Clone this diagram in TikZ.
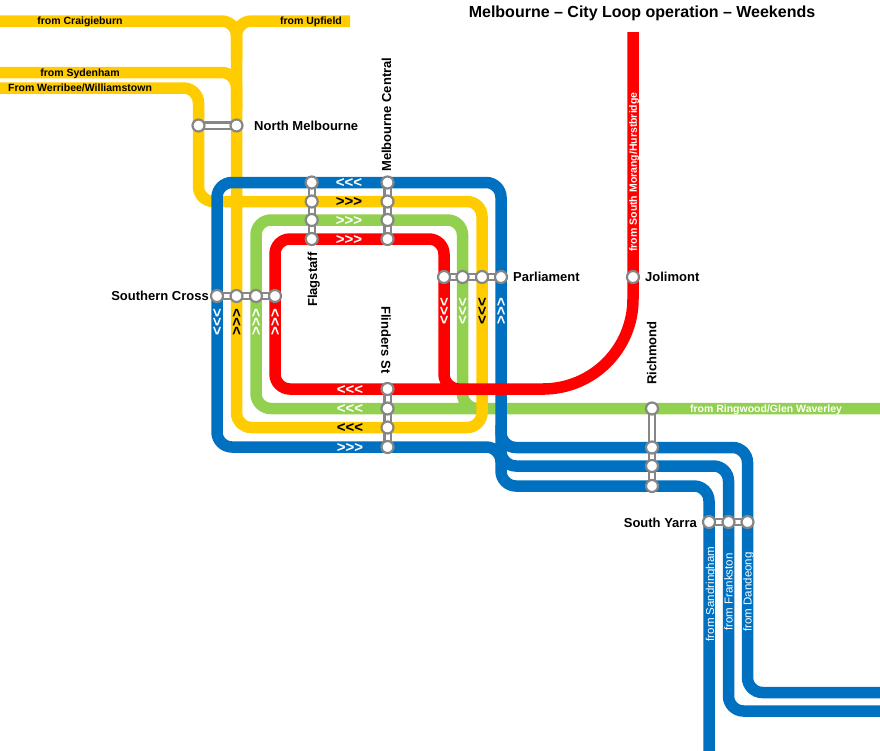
\documentclass[tikz,border=0pt]{standalone}
\usepackage{fontspec}
\setmainfont{Liberation Sans}[Ligatures=TeXOff]
\usetikzlibrary{positioning}
\definecolor{loopyellow}{HTML}{FFCC00}
\definecolor{loopblue}{HTML}{0070C0}
\definecolor{loopgreen}{HTML}{92D050}
\definecolor{loopred}{HTML}{FF0000}
\definecolor{stngrey}{HTML}{868686}

\begin{document}
\begin{tikzpicture}[x=1pt, y=-1pt,
    track/.style={line width=11.5pt, rounded corners=15pt},
    stn/.style={circle, draw=stngrey, fill=white, line width=2.2pt, inner sep=0pt, minimum size=12pt},
    bar/.style={draw=stngrey, line width=2.2pt, double=white, double distance=4pt},
    stnlabel/.style={font=\bfseries\fontsize{13}{13}\selectfont, inner sep=0pt},
    linelabel/.style={font=\bfseries\fontsize{10.5}{10.5}\selectfont, inner sep=0pt},
    southlabel/.style={font=\fontsize{11.5}{11.5}\selectfont, inner sep=0pt, white, rotate=90, anchor=base},
    chev/.style={font=\bfseries\fontsize{15}{15}\selectfont, inner sep=0pt, anchor=base}]

    \useasboundingbox (0,0) rectangle (880,750);

    % green
    \draw[track, loopgreen] (885,408.5) -- (256,408.5) -- (256,220) -- (462.5,220) -- (462.5,408.5) -- (485,408.5);
    % yellow
    \draw[track, loopyellow] (-5,21) -- (236.5,21) -- (236.5,427.5) -- (482,427.5) -- (482,201.5)
        -- (198.5,201.5) -- (198.5,88) -- (-5,88);
    \draw[track, loopyellow] (350,21) -- (236.5,21) -- (236.5,60);
    \draw[track, loopyellow] (-5,72.5) -- (236.5,72.5) -- (236.5,110);
    % blue
    \draw[track, loopblue] (709,755) -- (709,486) -- (501,486) -- (501,182.5) -- (217,182.5) -- (217,447)
        -- (501,447) -- (501,470);
    \draw[track, loopblue] (885,711) -- (728.5,711) -- (728.5,466) -- (501,466) -- (501,445);
    \draw[track, loopblue] (885,692.5) -- (747.5,692.5) -- (747.5,447.5) -- (501,447.5) -- (501,425);
    % red
    \draw[track, loopred] (545,389) -- (275,389) -- (275,239) -- (444,239) -- (444,389) -- (465,389);
    \draw[track, loopred, sharp corners] (633,32) -- (633,299) .. controls (633,348.7) and (592.7,389) .. (543,389);

    % stations
    \coordinate (nm1) at (198.5,125.5);
    \coordinate (nm2) at (236.5,125.5);
    \coordinate (jo1) at (633,277);
    \foreach \x [count=\i] in {217,236.5,256,275} \coordinate (sx\i) at (\x,296);
    \foreach \x [count=\i] in {444,462.5,482,501} \coordinate (pa\i) at (\x,277);
    \foreach \y [count=\i] in {182.5,201.5,220,239} {
        \coordinate (fs\i) at (311.7,\y);
        \coordinate (mc\i) at (387.5,\y);
    }
    \foreach \y [count=\i] in {389,408.5,427.5,447} \coordinate (fl\i) at (387.5,\y);
    \foreach \y [count=\i] in {408.5,447.5,466,486} \coordinate (ri\i) at (652,\y);
    \foreach \x [count=\i] in {709,728.5,747.5} \coordinate (sy\i) at (\x,522);

    \foreach \a/\b in {nm1/nm2, sx1/sx4, pa1/pa4, fs1/fs4, mc1/mc4, fl1/fl4, ri1/ri4, sy1/sy3}
        \draw[bar] (\a) -- (\b);
    \foreach \s in {nm1,nm2,jo1,sx1,sx2,sx3,sx4,pa1,pa2,pa3,pa4,fs1,fs2,fs3,fs4,mc1,mc2,mc3,mc4,
        fl1,fl2,fl3,fl4,ri1,ri2,ri3,ri4,sy1,sy2,sy3}
        \node[stn] (dot-\s) at (\s) {};

    % station names
    \node[stnlabel, anchor=base west] (lbl-nm) at (254,130.2) {North Melbourne};
    \node[stnlabel, anchor=base east] (lbl-sx) at (209,300.7) {Southern Cross};
    \node[stnlabel, anchor=base west] (lbl-pa) at (513,281.5) {Parliament};
    \node[stnlabel, anchor=base west] (lbl-jo) at (645,281.5) {Jolimont};
    \node[stnlabel, anchor=base east] (lbl-sy) at (697,527) {South Yarra};
    \node[stnlabel, anchor=base west, rotate=90] (lbl-mc) at (391,172) {Melbourne Central};
    \node[stnlabel, anchor=base west, rotate=90] (lbl-fs) at (317,307) {Flagstaff};
    \node[stnlabel, anchor=base west, rotate=-90] (lbl-fl) at (381.3,306) {Flinders St};
    \node[stnlabel, anchor=base west, rotate=90] (lbl-ri) at (656.4,385) {Richmond};

    % line names
    \node[linelabel, anchor=base] (from-cr) at (80,24.8) {from Craigieburn};
    \node[linelabel, anchor=base] (from-up) at (311,24.8) {from Upfield};
    \node[linelabel, anchor=base] (from-sy) at (80,76.3) {from Sydenham};
    \node[linelabel, anchor=base] (from-we) at (80,91.8) {From Werribee/Williamstown};
    \node[linelabel, anchor=base, white, rotate=90] (from-sm) at (636.8,172) {from South Morang/Hurstbridge};
    \node[linelabel, anchor=base, white] (from-ri) at (766,412.3) {from Ringwood/Glen Waverley};
    \node[southlabel] (from-sa) at (714.1,594) {from Sandringham};
    \node[southlabel] (from-fr) at (732.6,592) {from Frankston};
    \node[southlabel] (from-da) at (751.6,592) {from Dandeong};

    % direction of running
    \foreach \y/\c/\t [count=\i] in {182.5/white/{<<<}, 201.5/black/{>>>}, 220/white/{>>>}, 239/white/{>>>}}
        \node[chev, text=\c] (top\i) at (349,{\y+5.2}) {\t};
    \foreach \y/\c/\t [count=\i] in {389/white/{<<<}, 408.5/white/{<<<}, 427.5/black/{<<<}, 447/white/{>>>}}
        \node[chev, text=\c] (bot\i) at (350,{\y+5.2}) {\t};
    \foreach \x/\c/\t [count=\i] in {217/white/{<<<}, 236.5/black/{>>>}, 256/white/{>>>}, 275/white/{>>>}}
        \node[chev, text=\c, rotate=90] (west\i) at ({\x+5.2},322) {\t};
    \foreach \x/\c/\t [count=\i] in {444/white/{<<<}, 462.5/white/{<<<}, 482/black/{<<<}, 501/white/{>>>}}
        \node[chev, text=\c, rotate=90] (east\i) at ({\x+5.2},311) {\t};

    \node[font=\bfseries\fontsize{16}{16}\selectfont, inner sep=0pt, anchor=base] (title) at (642,17.7)
        {Melbourne – City Loop operation – Weekends};
\end{tikzpicture}
\end{document}
